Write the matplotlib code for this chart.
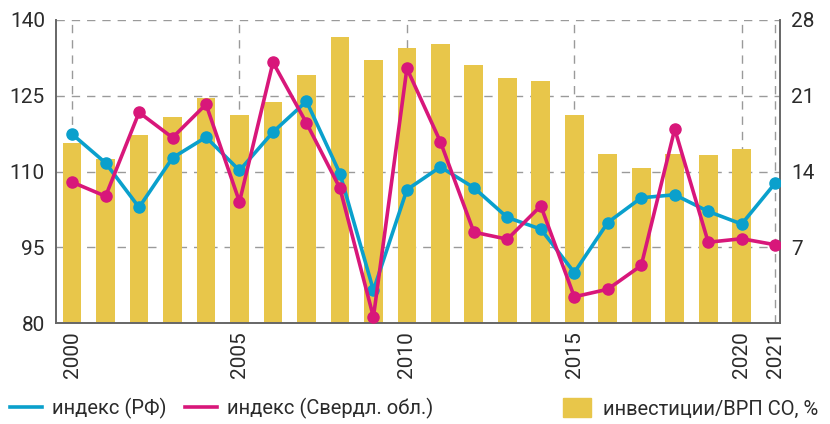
import numpy as np
import matplotlib.pyplot as plt
from matplotlib.lines import Line2D
from matplotlib.patches import Patch

plt.rcParams['font.family'] = ['Liberation Sans Narrow', 'Roboto', 'DejaVu Sans']

years = list(range(2000, 2022))
rf_index = [117.4, 111.7, 102.9, 112.7, 116.8, 110.2, 117.8, 123.9, 109.6, 86.5, 106.4,
            110.9, 106.8, 100.9, 98.6, 90.0, 99.9, 104.8, 105.4, 102.1, 99.6, 107.7]
sverdl_index = [107.9, 105.1, 121.7, 116.7, 123.3, 104.0, 131.6, 119.6, 106.7, 81.2, 130.4,
                115.9, 98.0, 96.6, 103.2, 85.2, 86.7, 91.4, 118.4, 96.0, 96.7, 95.5]
bar_years = list(range(2000, 2021))
invest_share = [16.6, 15.2, 17.4, 19.0, 20.8, 19.2, 20.4, 22.9, 26.4, 24.3, 25.4,
                25.8, 23.8, 22.6, 22.4, 19.2, 15.6, 14.3, 15.6, 15.5, 16.1]
xtick_years = [2000, 2005, 2010, 2015, 2020, 2021]

blue = '#0aa0cc'
pink = '#d8177a'
gold = '#e8c64a'
grey = '#9a9a9a'
text_c = '#2b2b2b'

fig = plt.figure(figsize=(8.3, 4.24), dpi=100)
ax = fig.add_axes([0.0675, 0.238, 0.8725, 0.715])

# bars on the bottom axes, grid behind them
ax.bar(bar_years, invest_share, width=0.56, color=gold, zorder=2)
ax.set_ylim(0, 28)
ax.set_yticks([0, 7, 14, 21, 28])
ax.set_yticklabels(['', '7', '14', '21', '28'])
ax.set_xlim(1999.52, 2021.15)
ax.set_xticks(xtick_years)
ax.set_xticklabels([str(y) for y in xtick_years], rotation=90)
ax.grid(True, color=grey, linestyle=(0, (6, 5)), linewidth=1.0, zorder=0)
ax.set_axisbelow(True)

ax2 = ax.twinx()
ax.yaxis.tick_right()
ax.yaxis.set_label_position('right')
ax2.yaxis.tick_left()
ax2.plot(years, rf_index, color=blue, lw=2.6, marker='o', ms=8, zorder=3)
ax2.plot(years, sverdl_index, color=pink, lw=2.6, marker='o', ms=8, zorder=4)
ax2.set_ylim(80, 140)
ax2.set_yticks([80, 95, 110, 125, 140])

for a in (ax, ax2):
    a.tick_params(length=0, labelsize=15, colors=text_c, pad=8)
    for s in a.spines.values():
        s.set_color('#666666')
        s.set_linewidth(1.2)
    a.spines['top'].set_visible(False)
ax.tick_params(axis='x', pad=6)

fig.legend(handles=[Line2D([], [], color=blue, lw=2.6), Line2D([], [], color=pink, lw=2.6)],
           labels=['индекс (РФ)', 'индекс (Свердл. обл.)'],
           loc='lower left', bbox_to_anchor=(-0.01, -0.03), ncol=2, frameon=False,
           fontsize=14.5, handlelength=1.6, columnspacing=0.9, handletextpad=0.5,
           labelcolor=text_c)
fig.legend(handles=[Patch(color=gold)], labels=['инвестиции/ВРП СО, %'],
           loc='lower right', bbox_to_anchor=(1.008, -0.03), frameon=False,
           fontsize=14.5, handlelength=1.4, handleheight=1.1, handletextpad=0.6,
           labelcolor=text_c)

fig.savefig('out.png', dpi=100)
